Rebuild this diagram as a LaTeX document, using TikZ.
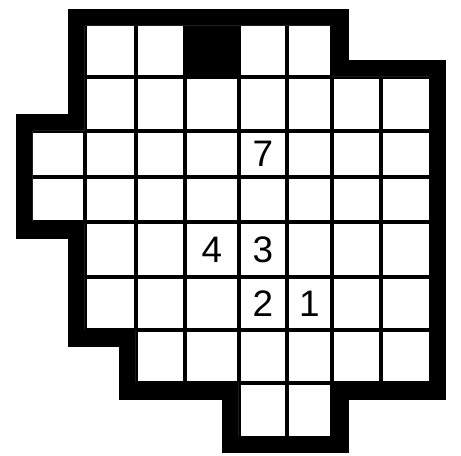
\documentclass[tikz,border=0pt]{standalone}
\usepackage{fontspec}
\setmainfont{Liberation Sans}
\usepackage{tikz}
\usetikzlibrary{calc}
\tikzset{
outer wall/.style = { draw = black, line width = 0.68cm, line join = miter },
cell line/.style = { draw = black, line width = 0.09cm },
clue/.style = { black, inner sep = 0pt, font = \fontsize{21}{25}\selectfont },
}

\begin{document}
\begin{tikzpicture}[x = 0.02cm, y = -0.02cm]
      \useasboundingbox (0, 0) rectangle (461, 456);
      % column and row borders
      \foreach \xx [count = \i from 0] in {33, 85, 136, 185, 239, 287, 332, 381, 429}
            \coordinate (x\i) at (\xx, 0);
      \foreach \yy [count = \j from 0] in {26, 77, 131, 177, 222, 277, 330, 383, 436}
            \coordinate (y\j) at (0, \yy);
      \def\wall{(x1 |- y0) -- (x6 |- y0) -- (x6 |- y1) -- (x8 |- y1) -- (x8 |- y7) -- (x6 |- y7) -- (x6 |- y8) -- (x4 |- y8) -- (x4 |- y7) -- (x2 |- y7) -- (x2 |- y6) -- (x1 |- y6) -- (x1 |- y4) -- (x0 |- y4) -- (x0 |- y2) -- (x1 |- y2) -- cycle}
      \draw[outer wall] \wall;
      \fill[white] \wall;
      \begin{scope}
            \clip \wall;
            \foreach \i in {1, ..., 7} {
                  \draw[cell line] (x\i |- y0) -- (x\i |- y8);
                  \draw[cell line] (x0 |- y\i) -- (x8 |- y\i);
            }
      \end{scope}
      \fill[black] (x3 |- y0) rectangle (x4 |- y1);
      % clues
      \node[clue] (clue7) at ($(x4 |- y2)!0.5!(x5 |- y3)$) {7};
      \node[clue] (clue4) at ($(x3 |- y4)!0.5!(x4 |- y5)$) {4};
      \node[clue] (clue3) at ($(x4 |- y4)!0.5!(x5 |- y5)$) {3};
      \node[clue] (clue2) at ($(x4 |- y5)!0.5!(x5 |- y6)$) {2};
      \node[clue] (clue1) at ($(x5 |- y5)!0.5!(x6 |- y6)$) {1};
      % \node at (230, 228) {};
\end{tikzpicture}
\end{document}
